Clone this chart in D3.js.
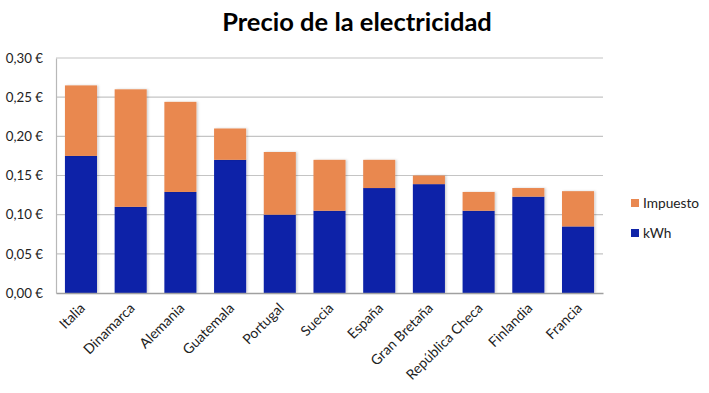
<!DOCTYPE html>
<html><head><meta charset="utf-8">
<script src="https://cdn.jsdelivr.net/npm/d3@7"></script>
<style>body{margin:0;background:#fff}svg{display:block}text{font-family:Lato,"Open Sans",sans-serif}</style>
</head><body>
<svg id="c" width="709" height="393"></svg>
<script>
const categories = ["Italia","Dinamarca","Alemania","Guatemala","Portugal","Suecia","España","Gran Bretaña","República Checa","Finlandia","Francia"];
const kwh = [0.175,0.110,0.129,0.170,0.100,0.105,0.134,0.139,0.105,0.123,0.085];
const impuesto = [0.090,0.150,0.115,0.040,0.080,0.065,0.036,0.011,0.024,0.011,0.045];
const yTicks = [0,0.05,0.10,0.15,0.20,0.25,0.30];
const seriesNames = ["kWh","Impuesto"];
const colors = {kWh:"#1024A8", Impuesto:"#E98850"};

const svg = d3.select("#c");
const m = {l:56, r:603, t:58, b:293};
const x = d3.scaleBand().domain(categories).range([m.l,m.r]).paddingInner(0.355).paddingOuter(0.18);
const y = d3.scaleLinear().domain([0,0.30]).range([m.b,m.t]);

const defs = svg.append("defs");
const f = defs.append("filter").attr("id","sh").attr("x","-20%").attr("y","-20%").attr("width","140%").attr("height","140%");
f.append("feDropShadow").attr("dx",1.5).attr("dy",0).attr("stdDeviation",1.2).attr("flood-color","#000").attr("flood-opacity",0.18);

svg.append("text").attr("x",357).attr("y",31).attr("text-anchor","middle")
  .attr("font-size",25.5).attr("font-weight","bold").text("Precio de la electricidad");

// grid
svg.append("g").selectAll("line").data(yTicks.filter(d=>d>0)).join("line")
  .attr("x1",m.l).attr("x2",m.r).attr("y1",d=>y(d)).attr("y2",d=>y(d))
  .attr("stroke","#c4c4c4").attr("stroke-width",1.2);

// y axis
const ya = svg.append("g").attr("transform",`translate(${m.l},0)`)
  .call(d3.axisLeft(y).tickValues(yTicks).tickSize(0).tickPadding(13)
    .tickFormat(d=>d3.format(".2f")(d).replace(".",",")+" €"));
ya.select(".domain").attr("stroke","#b8b8b8").attr("stroke-width",1.2);
ya.selectAll("text").attr("font-size",13.3).attr("fill","#222").attr("font-family","Lato,'Open Sans',sans-serif");

// stack
const data = categories.map((c,i)=>({cat:c, kWh:kwh[i], Impuesto:impuesto[i]}));
const stack = d3.stack().keys(seriesNames)(data);
svg.append("g").selectAll("g").data(stack).join("g").attr("fill",d=>colors[d.key])
  .selectAll("rect").data(d=>d).join("rect")
  .attr("x",d=>x(d.data.cat)).attr("width",x.bandwidth())
  .attr("y",d=>y(d[1])).attr("height",d=>y(d[0])-y(d[1]))
  .attr("filter","url(#sh)");

// x axis
const xa = svg.append("g").attr("transform",`translate(0,${m.b})`)
  .call(d3.axisBottom(x).tickSize(0).tickPadding(0));
xa.select(".domain").attr("stroke","#a0a0a0").attr("stroke-width",1.5);
xa.selectAll("text").attr("font-size",14).attr("fill","#222").attr("font-family","Lato,'Open Sans',sans-serif")
  .attr("text-anchor","end").attr("dy",0)
  .attr("transform","translate(5,16) rotate(-45)");

// legend
const leg = svg.append("g");
const items = [["Impuesto",0],["kWh",1]];
items.forEach(([k,i])=>{
  const g = leg.append("g").attr("transform",`translate(631,${199+i*30})`);
  g.append("rect").attr("width",8).attr("height",8).attr("fill",colors[k]);
  g.append("text").attr("x",12).attr("y",9).attr("font-size",13.7).attr("fill","#222").text(k);
});
</script>
</body></html>
